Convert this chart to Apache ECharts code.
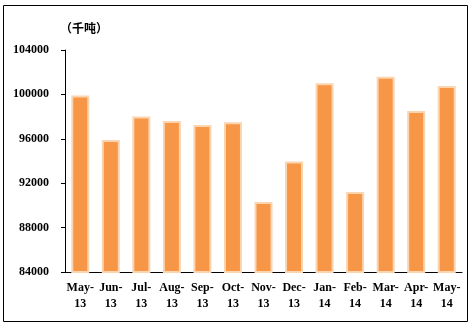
<!DOCTYPE html>
<html>
<head>
<meta charset="utf-8">
<script src="https://cdn.jsdelivr.net/npm/echarts@6/dist/echarts.min.js"></script>
<style>
  html, body { margin: 0; padding: 0; background: #fff; }
  #chart { width: 474px; height: 332px; }
</style>
</head>
<body>
<div id="chart"></div>
<script>
// Monthly volume, thousand tonnes
const months = ['May-\n13', 'Jun-\n13', 'Jul-\n13', 'Aug-\n13', 'Sep-\n13', 'Oct-\n13',
                'Nov-\n13', 'Dec-\n13', 'Jan-\n14', 'Feb-\n14', 'Mar-\n14', 'Apr-\n14', 'May-\n14'];
const volume = [99900, 95900, 98000, 97600, 97250, 97500,
                90300, 93950, 101000, 91200, 101600, 98500, 100750];
const yMin = 84000, yMax = 104000, yStep = 4000;
const unitLabel = '（千吨）';

const chart = echarts.init(document.getElementById('chart'), null, { renderer: 'canvas' });
const labelFont = { fontFamily: '"Liberation Serif", serif', fontWeight: 'bold', fontSize: 12, color: '#000' };

chart.setOption({
  animation: false,
  backgroundColor: '#fff',
  graphic: [
    { type: 'rect', shape: { x: 3.5, y: 5.5, width: 464, height: 316 },
      style: { fill: 'none', stroke: '#000', lineWidth: 1 } },
    { type: 'text', left: 60, top: 22,
      style: { text: unitLabel, font: 'bold 12px "Noto Sans CJK SC"', fill: '#000' } }
  ],
  grid: { left: 65, right: 12, top: 50, bottom: 60, containLabel: false },
  xAxis: {
    type: 'category',
    data: months,
    axisLine: { lineStyle: { color: '#000', width: 1 } },
    axisTick: { show: false },
    axisLabel: Object.assign({ margin: 8, lineHeight: 16, interval: 0 }, labelFont)
  },
  yAxis: {
    type: 'value',
    min: yMin, max: yMax, interval: yStep,
    axisLine: { show: true, lineStyle: { color: '#000', width: 1 } },
    axisTick: { show: true, length: 4, lineStyle: { color: '#000' } },
    splitLine: { show: false },
    axisLabel: Object.assign({ margin: 16, formatter: v => String(v) }, labelFont)
  },
  series: [{
    type: 'bar',
    data: volume,
    barWidth: 18,
    itemStyle: { color: '#F79646', borderColor: '#FBD4B0', borderWidth: 2 }
  }]
});
</script>
</body>
</html>
